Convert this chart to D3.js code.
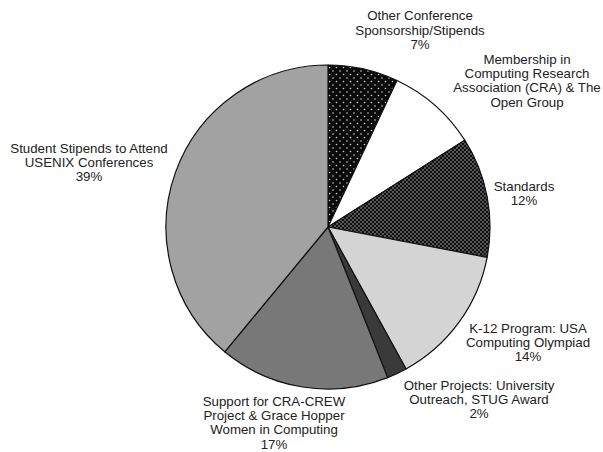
<!DOCTYPE html>
<html><head><meta charset="utf-8">
<script src="https://cdn.jsdelivr.net/npm/d3@7"></script>
<style>body{margin:0;background:#fff}svg{display:block}text{font-family:"Liberation Sans",Arial,sans-serif;fill:#222}</style>
</head><body><svg id="c" width="603" height="452"></svg>
<script>
const categories = ["Other Conference Sponsorship/Stipends","Membership in Computing Research Association (CRA) & The Open Group","Standards","K-12 Program: USA Computing Olympiad","Other Projects: University Outreach, STUG Award","Support for CRA-CREW Project & Grace Hopper Women in Computing","Student Stipends to Attend USENIX Conferences"];
const values = [7, 9, 12, 14, 2, 17, 39];
const labelLines = [
  ["Other Conference","Sponsorship/Stipends","7%"],
  ["Membership in","Computing Research","Association (CRA) & The","Open Group"],
  ["Standards","12%"],
  ["K-12 Program: USA","Computing Olympiad","14%"],
  ["Other Projects: University","Outreach, STUG Award","2%"],
  ["Support for CRA-CREW","Project & Grace Hopper","Women in Computing","17%"],
  ["Student Stipends to Attend","USENIX Conferences","39%"]
];
const fills = ["url(#p1)","#ffffff","url(#p2)","#d4d4d4","#3a3a3a","#787878","#a2a2a2"];
// label anchor (center x, center of first line)
const labelPos = [[420,15.5],[527,59],[524,186],[528,328],[479,385],[274,401],[89,148]];

const svg = d3.select("#c");
const defs = svg.append("defs");
const p1 = defs.append("pattern").attr("id","p1").attr("width",7).attr("height",7).attr("patternUnits","userSpaceOnUse");
p1.append("rect").attr("width",7).attr("height",7).attr("fill","#0a0a0a");
p1.append("circle").attr("cx",1.5).attr("cy",1.5).attr("r",0.8).attr("fill","#cfcfcf");
p1.append("circle").attr("cx",5).attr("cy",5).attr("r",0.8).attr("fill","#cfcfcf");
const p2 = defs.append("pattern").attr("id","p2").attr("width",4).attr("height",4).attr("patternUnits","userSpaceOnUse");
p2.append("rect").attr("width",4).attr("height",4).attr("fill","#111");
p2.append("circle").attr("cx",1).attr("cy",1).attr("r",0.75).attr("fill","#bbb");
p2.append("circle").attr("cx",3).attr("cy",3).attr("r",0.75).attr("fill","#bbb");

const cx = 328, cy = 227, r = 162;
const pie = d3.pie().sort(null).value(d=>d)(values);
const arc = d3.arc().innerRadius(0).outerRadius(r);
const g = svg.append("g").attr("transform",`translate(${cx},${cy})`);
g.selectAll("path").data(pie).join("path")
  .attr("d",arc).attr("fill",(d,i)=>fills[i])
  .attr("stroke","#111").attr("stroke-width",1.2).attr("stroke-linejoin","round");

const fs = 13.3, lh = 14.3;
labelLines.forEach((lines,i)=>{
  const t = svg.append("text").attr("text-anchor","middle").attr("font-size",fs);
  lines.forEach((l,j)=>{
    t.append("tspan").attr("x",labelPos[i][0]).attr("y",labelPos[i][1]+j*lh+fs*0.36).text(l);
  });
});
</script></body></html>
